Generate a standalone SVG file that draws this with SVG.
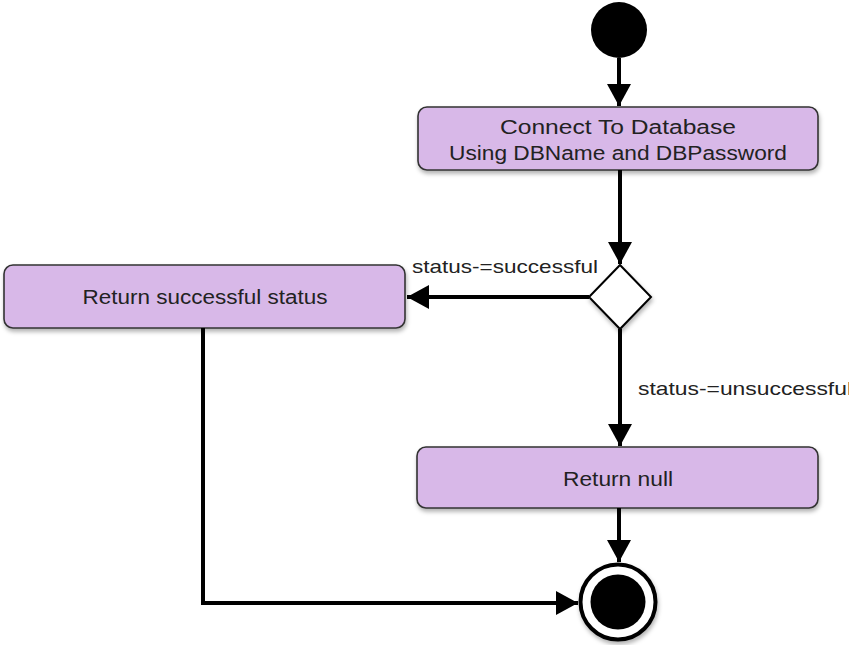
<svg xmlns="http://www.w3.org/2000/svg" width="849" height="645" viewBox="0 0 849 645">
<style>
.node rect{fill:#d8b8e8;stroke:#333;stroke-width:1.6}
.lbl{font-family:"Liberation Sans",Arial,sans-serif;font-size:20px;fill:#222}
.elbl{font-size:19px}
.ctr{text-anchor:middle}
.edge{fill:none;stroke:#000;stroke-width:4}
</style>
<defs>
<marker id="arr" markerWidth="6" markerHeight="6" refX="5.5" refY="3" orient="auto" markerUnits="strokeWidth"><path d="M0,0 L5.5,3 L0,6 Z" fill="#000"/></marker>
<filter id="sh" x="-10%" y="-20%" width="120%" height="150%"><feDropShadow dx="1" dy="3" stdDeviation="2" flood-color="#000" flood-opacity="0.3"/></filter>
</defs>
<g id="start"><circle cx="619" cy="30" r="28" fill="#000"/></g>
<g id="connect" class="node"><rect x="418" y="107" width="400" height="63" rx="9" filter="url(#sh)"/><text class="lbl ctr" x="618" y="134" textLength="236" lengthAdjust="spacingAndGlyphs">Connect To Database</text><text class="lbl ctr" x="618" y="160" textLength="338" lengthAdjust="spacingAndGlyphs">Using DBName and DBPassword</text></g>
<g id="decision"><polygon points="620,265 651,297 620,329 589,297" fill="#fff" stroke="#000" stroke-width="2" filter="url(#sh)"/></g>
<g id="success" class="node"><rect x="4" y="265" width="401" height="63" rx="9" filter="url(#sh)"/><text class="lbl ctr" x="205" y="304" textLength="245" lengthAdjust="spacingAndGlyphs">Return successful status</text></g>
<g id="null" class="node"><rect x="417" y="447" width="401" height="61" rx="9" filter="url(#sh)"/><text class="lbl ctr" x="618" y="486" textLength="110" lengthAdjust="spacingAndGlyphs">Return null</text></g>
<g id="end"><circle cx="618" cy="602" r="37.5" fill="#fff" stroke="#000" stroke-width="4" filter="url(#sh)"/><circle cx="618" cy="602" r="27.5" fill="#000"/></g>
<g id="connectors">
<path class="edge" d="M619,58 V106" marker-end="url(#arr)"/>
<path class="edge" d="M620,170 V264" marker-end="url(#arr)"/>
<path class="edge" d="M589,297 H407" marker-end="url(#arr)"/>
<path class="edge" d="M620,329 V446" marker-end="url(#arr)"/>
<path class="edge" d="M619,508 V562" marker-end="url(#arr)"/>
<path class="edge" d="M203,328 V603 H578" marker-end="url(#arr)"/>
<text class="lbl elbl" x="412" y="273" textLength="186" lengthAdjust="spacingAndGlyphs">status-=successful</text>
<text class="lbl elbl" x="638" y="395" textLength="214" lengthAdjust="spacingAndGlyphs">status-=unsuccessful</text>
</g>
</svg>
